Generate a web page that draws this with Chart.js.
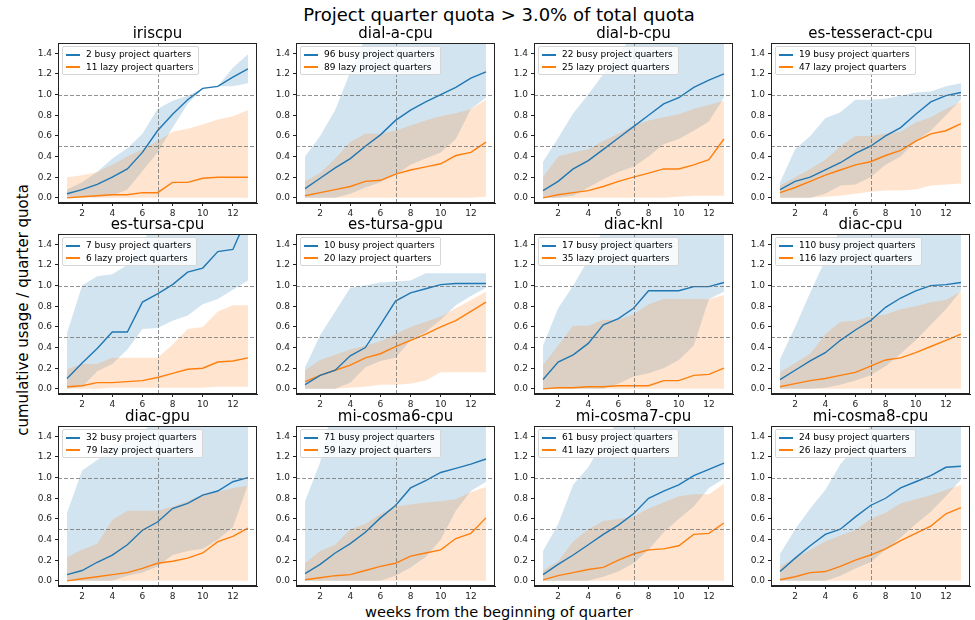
<!DOCTYPE html>
<html>
<head>
<meta charset="utf-8">
<script src="https://cdn.jsdelivr.net/npm/chart.js@4.4.0/dist/chart.umd.min.js"></script>
<style>
body { margin: 0; background: #fff; font-family: "DejaVu Sans", sans-serif; }
#fig { position: relative; width: 975px; height: 620px; overflow: hidden; background: #fff; }
.txt { position: absolute; transform: translate(-50%, -50%); white-space: nowrap; color: #000; }
canvas { position: absolute; }
.legend { position: absolute; background: rgba(255,255,255,0.8); border: 1px solid #d6d6d6; border-radius: 2px;
  padding: 1px 5px 1px 3px; font-size: 9px; line-height: 12.5px; color: #000; white-space: nowrap; }
.legend .sw { display: inline-block; width: 14px; height: 2px; vertical-align: middle; margin-right: 6px; }
</style>
</head>
<body>
<div id="fig"></div>
<script>
const weeks = [1, 2, 3, 4, 5, 6, 7, 8, 9, 10, 11, 12, 13];
const xTickVals = [2, 4, 6, 8, 10, 12];
const yTickVals = [0, 0.2, 0.4, 0.6, 0.8, 1.0, 1.2, 1.4];
const refLevels = [0.5, 1.0];
const refWeeks = [7];

const panelTitles = ['iriscpu', 'dial-a-cpu', 'dial-b-cpu', 'es-tesseract-cpu',
  'es-tursa-cpu', 'es-tursa-gpu', 'diac-knl', 'diac-cpu',
  'diac-gpu', 'mi-cosma6-cpu', 'mi-cosma7-cpu', 'mi-cosma8-cpu'];
const busyCounts = [2, 96, 22, 19, 7, 10, 17, 110, 32, 71, 61, 24];
const lazyCounts = [11, 89, 25, 47, 6, 20, 35, 116, 79, 59, 41, 26];

// iriscpu
const irisBusy   = [0.04, 0.08, 0.13, 0.20, 0.28, 0.44, 0.65, 0.81, 0.95, 1.06, 1.08, 1.17, 1.25];
const irisBusyHi = [0.08, 0.15, 0.25, 0.38, 0.48, 0.62, 0.86, 0.94, 0.99, 1.06, 1.08, 1.26, 1.39];
const irisBusyLo = [0.00, 0.01, 0.01, 0.02, 0.08, 0.26, 0.44, 0.68, 0.91, 1.06, 1.08, 1.08, 1.11];
const irisLazy   = [0.00, 0.01, 0.02, 0.03, 0.03, 0.05, 0.05, 0.15, 0.15, 0.19, 0.20, 0.20, 0.20];
const irisLazyHi = [0.20, 0.22, 0.25, 0.32, 0.40, 0.47, 0.55, 0.64, 0.67, 0.71, 0.76, 0.79, 0.85];
const irisLazyLo = [0, 0, 0, 0, 0, 0, 0, 0, 0, 0, 0, 0, 0];

// dial-a-cpu
const dialABusy   = [0.09, 0.19, 0.29, 0.38, 0.50, 0.61, 0.75, 0.85, 0.93, 1.00, 1.07, 1.16, 1.22];
const dialABusyHi = [0.40, 0.60, 0.85, 1.22, 1.55, 2.0, 2.0, 2.0, 2.0, 2.0, 2.0, 2.0, 2.0];
const dialABusyLo = [0.00, 0.00, 0.00, 0.04, 0.10, 0.15, 0.22, 0.32, 0.38, 0.44, 0.57, 0.86, 0.97];
const dialALazy   = [0.02, 0.05, 0.08, 0.11, 0.16, 0.17, 0.23, 0.27, 0.30, 0.33, 0.41, 0.44, 0.54];
const dialALazyHi = [0.16, 0.24, 0.38, 0.54, 0.62, 0.62, 0.65, 0.70, 0.75, 0.79, 0.82, 0.86, 0.95];
const dialALazyLo = [0, 0, 0, 0, 0, 0, 0, 0, 0, 0, 0, 0, 0.01];

// dial-b-cpu
const dialBBusy   = [0.07, 0.16, 0.28, 0.36, 0.47, 0.58, 0.69, 0.80, 0.91, 0.97, 1.07, 1.14, 1.20];
const dialBBusyHi = [0.35, 0.58, 0.82, 1.00, 1.20, 1.38, 1.60, 2.0, 2.0, 2.0, 2.0, 2.0, 2.0];
const dialBBusyLo = [0.00, 0.00, 0.02, 0.10, 0.18, 0.25, 0.30, 0.40, 0.52, 0.57, 0.65, 0.74, 0.97];
const dialBLazy   = [0.00, 0.03, 0.05, 0.07, 0.11, 0.16, 0.20, 0.24, 0.28, 0.28, 0.32, 0.37, 0.57];
const dialBLazyHi = [0.20, 0.40, 0.44, 0.47, 0.55, 0.62, 0.70, 0.75, 0.78, 0.81, 0.86, 0.90, 0.94];
const dialBLazyLo = [0, 0, 0, 0, 0, 0, 0, 0, 0, 0.01, 0.02, 0.02, 0.02];

// es-tesseract-cpu
const tessBusy   = [0.08, 0.16, 0.20, 0.27, 0.34, 0.43, 0.50, 0.60, 0.68, 0.81, 0.93, 0.99, 1.02];
const tessBusyHi = [0.15, 0.47, 0.60, 0.77, 0.83, 0.95, 0.95, 0.96, 0.99, 1.02, 1.03, 1.08, 1.11];
const tessBusyLo = [0.00, 0.00, 0.00, 0.04, 0.12, 0.13, 0.20, 0.32, 0.40, 0.55, 0.65, 0.80, 0.95];
const tessLazy   = [0.05, 0.10, 0.16, 0.22, 0.27, 0.32, 0.35, 0.41, 0.46, 0.55, 0.62, 0.65, 0.72];
const tessLazyHi = [0.12, 0.20, 0.28, 0.37, 0.50, 0.60, 0.60, 0.62, 0.64, 0.73, 0.78, 0.86, 0.93];
const tessLazyLo = [0.00, 0.00, 0.00, 0.01, 0.02, 0.04, 0.06, 0.07, 0.07, 0.08, 0.12, 0.13, 0.14];

// es-tursa-cpu
const tursaCBusy   = [0.10, 0.25, 0.39, 0.55, 0.55, 0.84, 0.92, 1.01, 1.13, 1.17, 1.33, 1.35, 1.68];
const tursaCBusyHi = [0.54, 1.00, 1.09, 1.11, 1.20, 1.42, 1.65, 2.0, 2.0, 2.0, 2.0, 2.0, 2.0];
const tursaCBusyLo = [0.00, 0.02, 0.17, 0.24, 0.38, 0.58, 0.59, 0.66, 0.71, 0.82, 0.87, 0.96, 1.05];
const tursaCLazy   = [0.02, 0.03, 0.06, 0.06, 0.07, 0.08, 0.11, 0.15, 0.19, 0.20, 0.26, 0.27, 0.30];
const tursaCLazyHi = [0.19, 0.24, 0.24, 0.30, 0.30, 0.30, 0.30, 0.43, 0.58, 0.60, 0.75, 0.81, 0.81];
const tursaCLazyLo = [0, 0, 0, 0.01, 0.01, 0.01, 0.01, 0.01, 0.01, 0.01, 0.02, 0.02, 0.02];

// es-tursa-gpu
const tursaGBusy   = [0.04, 0.13, 0.18, 0.32, 0.40, 0.62, 0.85, 0.93, 0.97, 1.01, 1.02, 1.02, 1.02];
const tursaGBusyHi = [0.21, 0.52, 0.75, 0.98, 1.00, 1.03, 1.04, 1.05, 1.12, 1.12, 1.12, 1.12, 1.12];
const tursaGBusyLo = [0.00, 0.00, 0.00, 0.06, 0.21, 0.27, 0.30, 0.47, 0.55, 0.67, 0.81, 0.90, 0.98];
const tursaGLazy   = [0.07, 0.13, 0.18, 0.23, 0.30, 0.34, 0.41, 0.47, 0.53, 0.60, 0.66, 0.75, 0.84];
const tursaGLazyHi = [0.18, 0.28, 0.33, 0.38, 0.42, 0.46, 0.53, 0.60, 0.65, 0.70, 0.78, 0.86, 0.94];
const tursaGLazyLo = [0.00, 0.00, 0.00, 0.01, 0.02, 0.04, 0.04, 0.05, 0.08, 0.16, 0.16, 0.16, 0.16];

// diac-knl
const knlBusy   = [0.09, 0.26, 0.33, 0.44, 0.62, 0.68, 0.78, 0.95, 0.95, 0.95, 0.99, 0.99, 1.03];
const knlBusyHi = [0.42, 0.78, 1.00, 1.25, 1.55, 2.0, 2.0, 2.0, 2.0, 2.0, 2.0, 2.0, 2.0];
const knlBusyLo = [0.00, 0.00, 0.00, 0.00, 0.00, 0.05, 0.12, 0.15, 0.20, 0.28, 0.42, 0.87, 0.94];
const knlLazy   = [0.00, 0.01, 0.01, 0.02, 0.02, 0.03, 0.03, 0.03, 0.08, 0.08, 0.13, 0.14, 0.20];
const knlLazyHi = [0.23, 0.42, 0.61, 0.61, 0.67, 0.67, 0.72, 0.82, 0.87, 0.87, 0.87, 0.87, 0.91];
const knlLazyLo = [0, 0, 0, 0, 0, 0, 0, 0, 0, 0, 0, 0, 0];

// diac-cpu
const diacCBusy   = [0.09, 0.18, 0.27, 0.35, 0.47, 0.57, 0.66, 0.79, 0.88, 0.95, 1.00, 1.01, 1.03];
const diacCBusyHi = [0.29, 0.60, 0.93, 1.25, 1.55, 2.0, 2.0, 2.0, 2.0, 2.0, 2.0, 2.0, 2.0];
const diacCBusyLo = [0.00, 0.00, 0.00, 0.01, 0.04, 0.08, 0.13, 0.22, 0.34, 0.47, 0.62, 0.77, 0.95];
const diacCLazy   = [0.02, 0.05, 0.08, 0.10, 0.13, 0.16, 0.22, 0.28, 0.30, 0.35, 0.41, 0.47, 0.53];
const diacCLazyHi = [0.16, 0.25, 0.34, 0.53, 0.65, 0.66, 0.70, 0.72, 0.77, 0.80, 0.84, 0.86, 0.94];
const diacCLazyLo = [0, 0, 0, 0, 0, 0, 0, 0, 0, 0, 0, 0, 0];

// diac-gpu
const diacGBusy   = [0.06, 0.10, 0.18, 0.25, 0.35, 0.49, 0.57, 0.70, 0.75, 0.83, 0.87, 0.96, 1.00];
const diacGBusyHi = [0.66, 1.07, 1.17, 1.27, 1.36, 1.45, 1.55, 2.0, 2.0, 2.0, 2.0, 2.0, 2.0];
const diacGBusyLo = [0.00, 0.00, 0.00, 0.00, 0.05, 0.08, 0.14, 0.25, 0.29, 0.31, 0.40, 0.52, 0.93];
const diacGLazy   = [0.00, 0.02, 0.04, 0.06, 0.08, 0.12, 0.17, 0.19, 0.22, 0.27, 0.38, 0.43, 0.51];
const diacGLazyHi = [0.23, 0.30, 0.36, 0.59, 0.68, 0.68, 0.68, 0.72, 0.77, 0.84, 0.86, 0.90, 0.92];
const diacGLazyLo = [0, 0, 0, 0, 0, 0, 0, 0, 0, 0, 0, 0, 0];

// mi-cosma6-cpu
const cosma6Busy   = [0.07, 0.16, 0.27, 0.36, 0.47, 0.61, 0.73, 0.90, 0.97, 1.05, 1.09, 1.13, 1.18];
const cosma6BusyHi = [0.77, 1.15, 1.80, 2.0, 2.0, 2.0, 2.0, 2.0, 2.0, 2.0, 2.0, 2.0, 2.0];
const cosma6BusyLo = [0, 0, 0, 0, 0, 0, 0.05, 0.13, 0.23, 0.40, 0.68, 0.87, 0.96];
const cosma6Lazy   = [0.01, 0.03, 0.05, 0.06, 0.10, 0.14, 0.17, 0.24, 0.27, 0.30, 0.41, 0.46, 0.61];
const cosma6LazyHi = [0.17, 0.29, 0.35, 0.50, 0.55, 0.65, 0.72, 0.74, 0.76, 0.77, 0.79, 0.86, 0.91];
const cosma6LazyLo = [0, 0, 0, 0, 0, 0, 0, 0, 0, 0, 0, 0, 0];

// mi-cosma7-cpu
const cosma7Busy   = [0.06, 0.16, 0.25, 0.35, 0.45, 0.54, 0.65, 0.80, 0.87, 0.93, 1.02, 1.08, 1.14];
const cosma7BusyHi = [0.29, 0.55, 0.93, 1.10, 1.35, 1.55, 2.0, 2.0, 2.0, 2.0, 2.0, 2.0, 2.0];
const cosma7BusyLo = [0, 0, 0, 0, 0.04, 0.09, 0.17, 0.30, 0.47, 0.60, 0.72, 0.90, 0.99];
const cosma7Lazy   = [0.01, 0.05, 0.08, 0.11, 0.13, 0.20, 0.26, 0.30, 0.31, 0.34, 0.45, 0.46, 0.56];
const cosma7LazyHi = [0.10, 0.19, 0.38, 0.50, 0.58, 0.60, 0.62, 0.70, 0.76, 0.82, 0.84, 0.84, 0.94];
const cosma7LazyLo = [0, 0, 0, 0, 0, 0, 0, 0, 0, 0, 0, 0, 0];

// mi-cosma8-cpu
const cosma8Busy   = [0.09, 0.22, 0.34, 0.45, 0.50, 0.62, 0.73, 0.80, 0.90, 0.96, 1.02, 1.10, 1.11];
const cosma8BusyHi = [0.26, 0.50, 0.70, 0.88, 1.13, 1.30, 1.50, 1.70, 2.0, 2.0, 2.0, 2.0, 2.0];
const cosma8BusyLo = [0, 0, 0, 0, 0.05, 0.12, 0.18, 0.30, 0.42, 0.55, 0.67, 0.82, 0.98];
const cosma8Lazy   = [0.01, 0.04, 0.08, 0.09, 0.14, 0.20, 0.25, 0.31, 0.39, 0.46, 0.53, 0.65, 0.71];
const cosma8LazyHi = [0.14, 0.22, 0.30, 0.38, 0.44, 0.49, 0.60, 0.66, 0.75, 0.79, 0.83, 0.88, 0.93];
const cosma8LazyLo = [0, 0, 0, 0, 0, 0, 0, 0, 0, 0, 0, 0, 0];

const series = [
  [irisBusy, irisBusyLo, irisBusyHi, irisLazy, irisLazyLo, irisLazyHi],
  [dialABusy, dialABusyLo, dialABusyHi, dialALazy, dialALazyLo, dialALazyHi],
  [dialBBusy, dialBBusyLo, dialBBusyHi, dialBLazy, dialBLazyLo, dialBLazyHi],
  [tessBusy, tessBusyLo, tessBusyHi, tessLazy, tessLazyLo, tessLazyHi],
  [tursaCBusy, tursaCBusyLo, tursaCBusyHi, tursaCLazy, tursaCLazyLo, tursaCLazyHi],
  [tursaGBusy, tursaGBusyLo, tursaGBusyHi, tursaGLazy, tursaGLazyLo, tursaGLazyHi],
  [knlBusy, knlBusyLo, knlBusyHi, knlLazy, knlLazyLo, knlLazyHi],
  [diacCBusy, diacCBusyLo, diacCBusyHi, diacCLazy, diacCLazyLo, diacCLazyHi],
  [diacGBusy, diacGBusyLo, diacGBusyHi, diacGLazy, diacGLazyLo, diacGLazyHi],
  [cosma6Busy, cosma6BusyLo, cosma6BusyHi, cosma6Lazy, cosma6LazyLo, cosma6LazyHi],
  [cosma7Busy, cosma7BusyLo, cosma7BusyHi, cosma7Lazy, cosma7LazyLo, cosma7LazyHi],
  [cosma8Busy, cosma8BusyLo, cosma8BusyHi, cosma8Lazy, cosma8LazyLo, cosma8LazyHi]
];

const BLUE = '#1f77b4';
const ORANGE = '#ff7f0e';
const BLUE_FILL = 'rgba(31, 119, 180, 0.2)';
const ORANGE_FILL = 'rgba(255, 127, 14, 0.2)';
const AX = '#222';

// layout of the 4x3 grid (plot area boxes)
const colLeft = [58, 296, 534, 771];
const rowTop = [43, 234, 426];
const plotW = 199, plotH = 160;
const yAxisW = 45, xAxisH = 22, padTop = 4, padRight = 6;

const fig = document.getElementById('fig');

const addText = (text, x, y, size, rotate) => {
  const d = document.createElement('div');
  d.className = 'txt';
  d.style.left = x + 'px';
  d.style.top = y + 'px';
  d.style.fontSize = size + 'px';
  if (rotate) d.style.transform = 'translate(-50%, -50%) rotate(-90deg)';
  d.textContent = text;
  fig.appendChild(d);
};

const toPoints = (vals) => vals.map((v, i) => ({ x: weeks[i], y: v }));

// dashed reference lines + full axes frame
const refLines = {
  id: 'refLines',
  afterDatasetsDraw(chart) {
    const { ctx, chartArea: a, scales: { x, y } } = chart;
    ctx.save();
    ctx.strokeStyle = 'rgba(110, 110, 110, 0.75)';
    ctx.lineWidth = 1;
    ctx.setLineDash([4, 2]);
    refLevels.forEach((v) => {
      const py = Math.round(y.getPixelForValue(v)) + 0.5;
      ctx.beginPath(); ctx.moveTo(a.left, py); ctx.lineTo(a.right, py); ctx.stroke();
    });
    refWeeks.forEach((w) => {
      const px = Math.round(x.getPixelForValue(w)) + 0.5;
      ctx.beginPath(); ctx.moveTo(px, a.top); ctx.lineTo(px, a.bottom); ctx.stroke();
    });
    ctx.setLineDash([]);
    ctx.strokeStyle = AX;
    ctx.strokeRect(a.left + 0.5, a.top + 0.5, a.right - a.left - 1, a.bottom - a.top - 1);
    ctx.restore();
  }
};

const makePanel = (idx) => {
  const col = idx % 4, row = Math.floor(idx / 4);
  const left = colLeft[col], top = rowTop[row];
  const [busy, busyLo, busyHi, lazy, lazyLo, lazyHi] = series[idx];

  const canvas = document.createElement('canvas');
  canvas.width = plotW + yAxisW + padRight;
  canvas.height = plotH + padTop + xAxisH;
  canvas.style.left = (left - yAxisW) + 'px';
  canvas.style.top = (top - padTop) + 'px';
  fig.appendChild(canvas);

  addText(panelTitles[idx], left + plotW / 2, top - 10, 15);

  const lg = document.createElement('div');
  lg.className = 'legend';
  lg.style.left = (left + 4) + 'px';
  lg.style.top = (top + 3) + 'px';
  lg.innerHTML = `<div><span class="sw" style="background:${BLUE}"></span>${busyCounts[idx]} busy project quarters</div>` +
    `<div><span class="sw" style="background:${ORANGE}"></span>${lazyCounts[idx]} lazy project quarters</div>`;
  fig.appendChild(lg);

  // index order matters: fills are painted from the last dataset backwards,
  // so the busy band goes down first and the lazy band sits on top of it
  new Chart(canvas.getContext('2d'), {
    type: 'line',
    data: {
      datasets: [
        { label: busyCounts[idx] + ' busy project quarters', data: toPoints(busy), borderColor: BLUE, borderWidth: 1.4, fill: false },
        { label: lazyCounts[idx] + ' lazy project quarters', data: toPoints(lazy), borderColor: ORANGE, borderWidth: 1.4, fill: false },
        { label: 'lazy low', data: toPoints(lazyLo), borderWidth: 0, borderColor: 'rgba(0,0,0,0)', fill: false },
        { label: 'lazy high', data: toPoints(lazyHi), borderWidth: 0, borderColor: 'rgba(0,0,0,0)', backgroundColor: ORANGE_FILL, fill: '-1' },
        { label: 'busy low', data: toPoints(busyLo), borderWidth: 0, borderColor: 'rgba(0,0,0,0)', fill: false },
        { label: 'busy high', data: toPoints(busyHi), borderWidth: 0, borderColor: 'rgba(0,0,0,0)', backgroundColor: BLUE_FILL, fill: '-1' }
      ]
    },
    options: {
      responsive: false,
      animation: false,
      devicePixelRatio: 1,
      elements: { point: { radius: 0 }, line: { tension: 0 } },
      layout: { padding: { top: padTop, right: padRight, left: 0, bottom: 0 } },
      plugins: {
        legend: { display: false },
        tooltip: { enabled: false },
        filler: { drawTime: 'beforeDatasetsDraw' }
      },
      scales: {
        x: {
          type: 'linear',
          min: 0.4,
          max: 13.6,
          afterBuildTicks: (s) => { s.ticks = xTickVals.map((v) => ({ value: v })); },
          afterFit: (s) => { s.height = xAxisH; s.paddingLeft = 0; s.paddingRight = 0; },
          ticks: { font: { family: 'DejaVu Sans', size: 9 }, color: AX, padding: 2, maxRotation: 0 },
          grid: { drawOnChartArea: false, drawTicks: true, tickLength: 3, color: AX },
          border: { color: AX, width: 1 }
        },
        y: {
          type: 'linear',
          min: -0.05,
          max: 1.5,
          afterBuildTicks: (s) => { s.ticks = yTickVals.map((v) => ({ value: v })); },
          afterFit: (s) => { s.width = yAxisW; s.paddingTop = 0; s.paddingBottom = 0; },
          ticks: { font: { family: 'DejaVu Sans', size: 9 }, color: AX, padding: 3, callback: (v) => v.toFixed(1) },
          grid: { drawOnChartArea: false, drawTicks: true, tickLength: 3, color: AX },
          border: { color: AX, width: 1 }
        }
      }
    },
    plugins: [refLines]
  });
};

addText('Project quarter quota > 3.0% of total quota', 499, 14, 18);
addText('cumulative usage / quarter quota', 23, 310, 15, true);
addText('weeks from the beginning of quarter', 499, 611, 14.6);

for (let i = 0; i < panelTitles.length; i++) {
  makePanel(i);
}
</script>
</body>
</html>
